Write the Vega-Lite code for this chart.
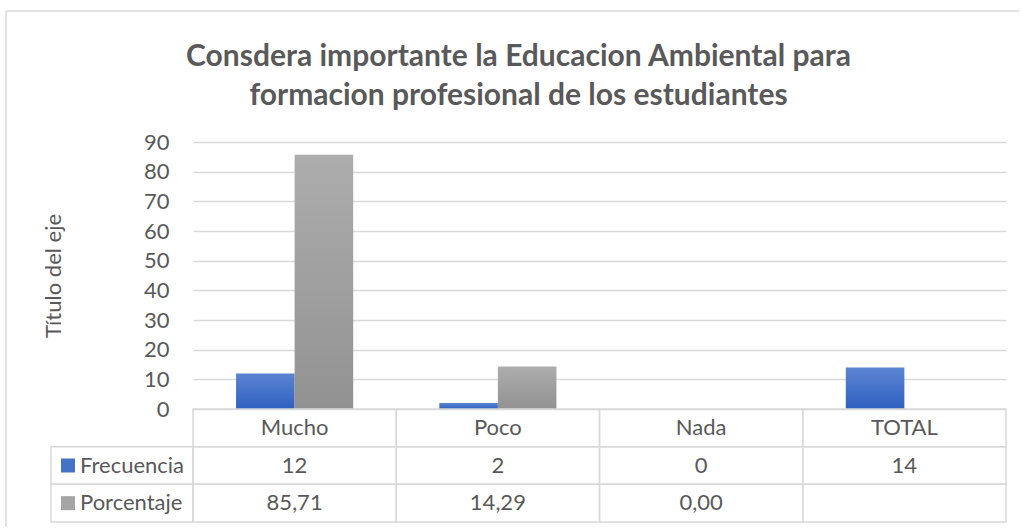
{
  "$schema": "https://vega.github.io/schema/vega-lite/v6.json",
  "width": 813,
  "height": 380,
  "autosize": {"type": "pad"},
  "padding": {"left": 5, "top": 10, "right": 0, "bottom": 0},
  "background": "white",
  "config": {
    "view": {"stroke": null},
    "font": "Lato",
    "locale": {"number": {"decimal": ",", "thousands": ".", "grouping": [3], "currency": ["", " €"]}}
  },
  "title": {
    "text": ["Consdera importante la Educacion Ambiental para", "formacion profesional de los estudiantes"],
    "font": "Lato",
    "fontSize": 30,
    "fontWeight": "bold",
    "color": "#595959",
    "anchor": "middle",
    "frame": "bounds",
    "offset": -101,
    "lineHeight": 39,
    "dx": 6
  },
  "data": {
    "values": [
      {"categoria": "Mucho", "Frecuencia": 12, "Porcentaje": 85.71},
      {"categoria": "Poco", "Frecuencia": 2, "Porcentaje": 14.29},
      {"categoria": "Nada", "Frecuencia": 0, "Porcentaje": 0},
      {"categoria": "TOTAL", "Frecuencia": 14, "Porcentaje": null}
    ]
  },
  "transform": [{"fold": ["Frecuencia", "Porcentaje"], "as": ["serie", "valor"]}],
  "layer": [
    {
      "data": {"values": [{"marco": "borde"}]},
      "encoding": {
        "x": {"datum": 0, "scale": {"domain": [0, 1], "range": [-187, 826], "nice": false, "zero": false}, "axis": null},
        "y": {"datum": 0, "scale": {"domain": [0, 1], "range": [-131, 385], "nice": false, "zero": false}, "axis": null}
      },
      "layer": [
        {"mark": {"type": "rule", "color": "#d9d9d9", "strokeWidth": 1.5}, "encoding": {"x2": {"datum": 1}}},
        {"mark": {"type": "rule", "color": "#d9d9d9", "strokeWidth": 1.5}, "encoding": {"y2": {"datum": 1}}}
      ]
    },
    {
      "encoding": {
        "x": {"field": "categoria", "type": "nominal", "scale": {"domain": ["Mucho", "Poco", "Nada", "TOTAL"], "paddingInner": 0, "paddingOuter": 0}, "axis": null},
        "xOffset": {"field": "serie", "type": "nominal", "scale": {"domain": ["Frecuencia", "Porcentaje"], "paddingInner": 0, "paddingOuter": 0.735}},
        "y": {
          "field": "valor",
          "type": "quantitative",
          "scale": {"domain": [0, 90], "range": [267, 0], "nice": false},
          "axis": {
            "values": [0, 10, 20, 30, 40, 50, 60, 70, 80, 90],
            "grid": true,
            "gridColor": "#d9d9d9",
            "gridWidth": 1.5,
            "domain": false,
            "ticks": false,
            "labelFont": "Lato",
            "labelFontSize": 22,
            "labelColor": "#595959",
            "labelPadding": 24,
            "title": "Título del eje",
            "titleFont": "Lato",
            "titleFontSize": 22,
            "titleFontWeight": "normal",
            "titleColor": "#595959",
            "titlePadding": 78
          }
        }
      },
      "layer": [
        {
          "transform": [{"filter": "datum.serie === 'Frecuencia'"}],
          "mark": {"type": "bar", "color": {"gradient": "linear", "x1": 0, "y1": 0, "x2": 0, "y2": 1, "stops": [{"offset": 0, "color": "#5b84d2"}, {"offset": 1, "color": "#2f60c0"}]}}
        },
        {
          "transform": [{"filter": "datum.serie === 'Porcentaje'"}],
          "mark": {"type": "bar", "color": {"gradient": "linear", "x1": 0, "y1": 0, "x2": 0, "y2": 1, "stops": [{"offset": 0, "color": "#adadad"}, {"offset": 1, "color": "#929292"}]}}
        }
      ]
    },
    {
      "encoding": {
        "x": {"field": "categoria", "type": "nominal", "scale": {"domain": ["Mucho", "Poco", "Nada", "TOTAL"], "paddingInner": 0, "paddingOuter": 0}, "axis": null},
        "y": {"field": "serie", "type": "nominal", "scale": {"domain": ["Categoría", "Frecuencia", "Porcentaje"], "range": [267, 380], "paddingInner": 0, "paddingOuter": 0}, "axis": null}
      },
      "layer": [
        {"mark": {"type": "rect", "fill": "transparent", "stroke": "#d9d9d9", "strokeWidth": 1.5}},
        {
          "transform": [{"filter": "datum.serie === 'Frecuencia'"}],
          "mark": {"type": "rect", "fill": "transparent", "stroke": "#d9d9d9", "strokeWidth": 1.5},
          "encoding": {"y": {"datum": "Categoría"}}
        },
        {
          "transform": [{"filter": "datum.serie === 'Frecuencia'"}],
          "mark": {"type": "text", "font": "Lato", "fontSize": 22, "color": "#595959", "align": "center", "baseline": "middle"},
          "encoding": {"y": {"datum": "Categoría"}, "text": {"field": "categoria", "type": "nominal"}}
        },
        {
          "transform": [{"filter": "datum.serie === 'Frecuencia'"}],
          "mark": {"type": "text", "font": "Lato", "fontSize": 22, "color": "#595959", "align": "center", "baseline": "middle"},
          "encoding": {"text": {"field": "valor", "type": "quantitative", "format": "d"}}
        },
        {
          "transform": [{"filter": "datum.serie === 'Porcentaje' && isValid(datum.valor)"}],
          "mark": {"type": "text", "font": "Lato", "fontSize": 22, "color": "#595959", "align": "center", "baseline": "middle"},
          "encoding": {"text": {"field": "valor", "type": "quantitative", "format": ".2f"}}
        }
      ]
    },
    {
      "transform": [{"filter": "datum.categoria === 'Mucho'"}],
      "encoding": {
        "y": {"field": "serie", "type": "nominal", "scale": {"domain": ["Categoría", "Frecuencia", "Porcentaje"], "range": [267, 380], "paddingInner": 0, "paddingOuter": 0}, "axis": null}
      },
      "layer": [
        {
          "mark": {"type": "rect", "fill": "transparent", "stroke": "#d9d9d9", "strokeWidth": 1.5},
          "encoding": {"x": {"datum": "fila", "scale": {"domain": ["fila"], "range": [-142, 0], "paddingInner": 0, "paddingOuter": 0}, "axis": null}}
        },
        {
          "mark": {"type": "point", "shape": "square", "filled": true, "size": 196, "opacity": 1},
          "encoding": {
            "x": {"datum": "fila", "scale": {"domain": ["fila"], "range": [-134, -116], "paddingInner": 0, "paddingOuter": 0}, "axis": null},
            "color": {"field": "serie", "type": "nominal", "scale": {"domain": ["Frecuencia", "Porcentaje"], "range": ["#4472c4", "#a5a5a5"]}, "legend": null}
          }
        },
        {
          "mark": {"type": "text", "font": "Lato", "fontSize": 22, "color": "#595959", "align": "left", "baseline": "middle", "dx": -42},
          "encoding": {
            "x": {"datum": "fila", "scale": {"domain": ["fila"], "range": [-142, 0], "paddingInner": 0, "paddingOuter": 0}, "axis": null},
            "text": {"field": "serie", "type": "nominal"}
          }
        }
      ],
      "resolve": {"scale": {"x": "independent"}}
    }
  ],
  "resolve": {"scale": {"x": "independent", "y": "independent"}}
}
